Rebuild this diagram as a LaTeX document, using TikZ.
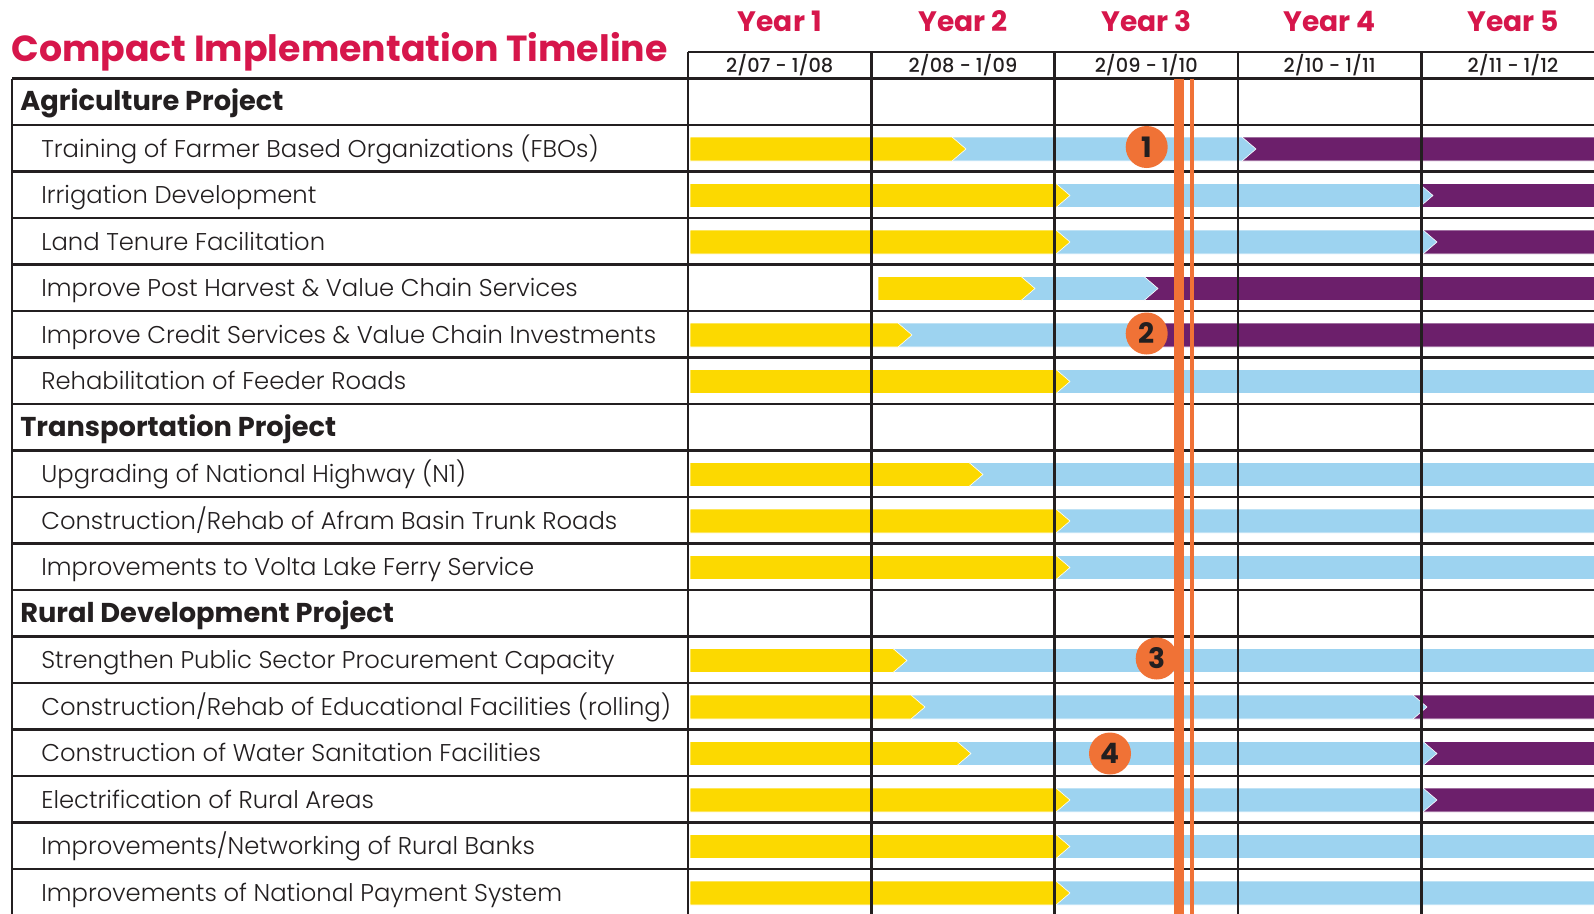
\documentclass[tikz,border=0pt]{standalone}
\usepackage{fontspec}
\setmainfont{Poppins}[UprightFont=* Light, BoldFont=* Bold]
\newfontfamily\medfont{Poppins Medium}
\usepackage{tikz}
\usetikzlibrary{positioning, calc, shapes}

\definecolor{titlered}{RGB}{214,22,75}
\definecolor{inkgray}{RGB}{35,31,32}
\definecolor{yellowbar}{RGB}{252,217,0}
\definecolor{bluebar}{RGB}{157,211,240}
\definecolor{purplebar}{RGB}{108,31,107}
\definecolor{markorange}{RGB}{240,114,54}

% row, from, to, colour
\newcommand{\timebar}[4]{%
  \filldraw[#4, draw=white, line width=0.12mm]
    (#2, {78.5+46.5*#1+12}) -- (#3, {78.5+46.5*#1+12})
    -- ({#3+14}, {78.5+46.5*#1+24})
    -- (#3, {78.5+46.5*#1+36}) -- (#2, {78.5+46.5*#1+36}) -- cycle;}

\begin{document}
\begin{tikzpicture}[x=0.2mm, y=-0.2mm,
    gridline/.style={draw=inkgray, line width=0.55mm},
    rowlabel/.style={anchor=base west, inner sep=0, text=inkgray, font=\fontsize{13.8pt}{16pt}\selectfont},
    grouplabel/.style={anchor=base west, inner sep=0, text=inkgray, font=\fontsize{15.5pt}{17pt}\selectfont\bfseries},
    yearlabel/.style={anchor=base, inner sep=0, text=titlered, font=\fontsize{16pt}{18pt}\selectfont\bfseries},
    datelabel/.style={anchor=base, inner sep=0, text=inkgray, font=\fontsize{11pt}{13pt}\medfont},
    marker/.style={circle, fill=markorange, minimum size=8.4mm, inner sep=0, text=inkgray, font=\fontsize{16pt}{18pt}\selectfont\bfseries}]
  \clip (0,0) rectangle (1594,913);

  \node[anchor=base west, inner sep=0, text=titlered, font=\fontsize{20.65pt}{24pt}\selectfont\bfseries] (title) at (11,61.7) {Compact Implementation Timeline};

  \node[yearlabel] (year1) at (779.7,31.7) {Year 1};
  \node[yearlabel] (year2) at (963,31.7) {Year 2};
  \node[yearlabel] (year3) at (1146.3,31.7) {Year 3};
  \node[yearlabel] (year4) at (1329.6,31.7) {Year 4};
  \node[yearlabel] (year5) at (1513,31.7) {Year 5};
  \node[datelabel] (date1) at (779.7,72.7) {2/07 - 1/08};
  \node[datelabel] (date2) at (963,72.7) {2/08 - 1/09};
  \node[datelabel] (date3) at (1146.3,72.7) {2/09 - 1/10};
  \node[datelabel] (date4) at (1329.6,72.7) {2/10 - 1/11};
  \node[datelabel] (date5) at (1513,72.7) {2/11 - 1/12};

  \foreach \k/\y/\b in {1/952/1242, 2/1056/1419, 3/1056/1423, 5/898/1150, 13/911/1413, 14/957/1423, 15/1056/1423} {
    \timebar{\k}{\b}{1640}{purplebar}
    \timebar{\k}{\y}{\b}{bluebar}
    \timebar{\k}{690}{\y}{yellowbar}
  }
  \timebar{4}{1144}{1640}{purplebar}
  \timebar{4}{1021}{1144}{bluebar}
  \timebar{4}{878}{1021}{yellowbar}
  \foreach \k/\y in {6/1056, 8/969, 9/1056, 10/1056, 12/893, 16/1056, 17/1056} {
    \timebar{\k}{\y}{1640}{bluebar}
    \timebar{\k}{690}{\y}{yellowbar}
  }

  \draw[gridline] (688,52) -- (1600,52);
  \foreach \k in {0,...,17}
    \draw[gridline] (12,{78.5+46.5*\k}) -- (1600,{78.5+46.5*\k});
  \draw[gridline] (12,78.5) -- (12,920);
  \foreach \x in {688,871.3,1054.6,1238,1421.3}
    \draw[gridline] (\x,52) -- (\x,920);

  \node[grouplabel] (agri) at (20,110.5) {Agriculture Project};
  \node[grouplabel] (trans) at (20,436) {Transportation Project};
  \node[grouplabel] (rural) at (20,622) {Rural Development Project};
  \foreach \k/\txt in {1/{Training of Farmer Based Organizations (FBOs)},
      2/{Irrigation Development},
      3/{Land Tenure Facilitation},
      4/{Improve Post Harvest \& Value Chain Services},
      5/{Improve Credit Services \& Value Chain Investments},
      6/{Rehabilitation of Feeder Roads},
      8/{Upgrading of National Highway (N1)},
      9/{Construction/Rehab of Afram Basin Trunk Roads},
      10/{Improvements to Volta Lake Ferry Service},
      12/{Strengthen Public Sector Procurement Capacity},
      13/{Construction/Rehab of Educational Facilities (rolling)},
      14/{Construction of Water Sanitation Facilities},
      15/{Electrification of Rural Areas},
      16/{Improvements/Networking of Rural Banks},
      17/{Improvements of National Payment System}}
    \node[rowlabel] (row\k) at (41,{78.5+46.5*\k+32}) {\txt};

  \draw[markorange, line width=2mm] (1179,78.5) -- (1179,920);
  \draw[markorange, line width=0.8mm] (1192,78.5) -- (1192,920);

  \node[marker] (m1) at (1146.7,147) {1};
  \node[marker] (m2) at (1146.7,333.5) {2};
  \node[marker] (m3) at (1156.7,658.5) {3};
  \node[marker] (m4) at (1110,753.5) {4};
\end{tikzpicture}
\end{document}
